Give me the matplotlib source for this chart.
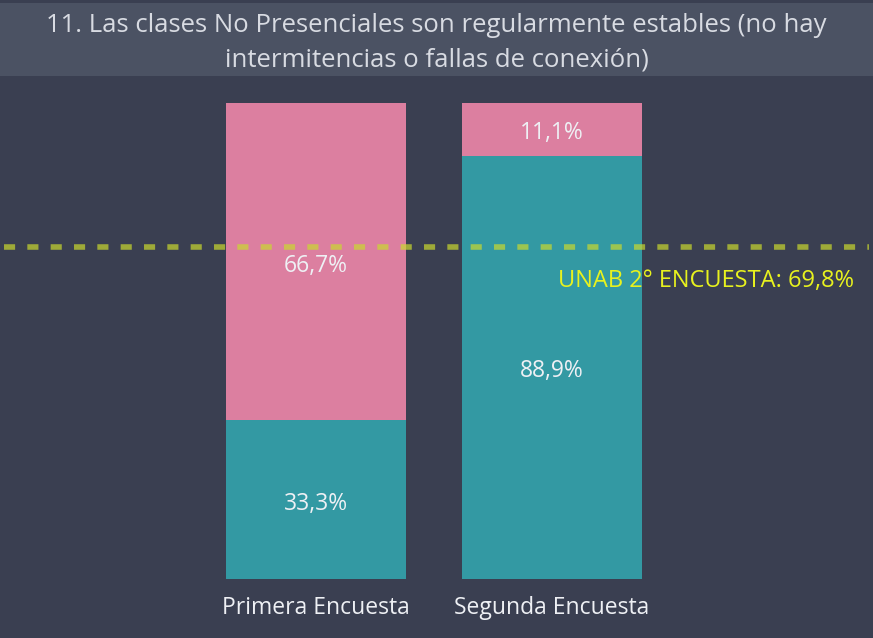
import matplotlib.pyplot as plt
from matplotlib.patches import Rectangle

# ── Data ──────────────────────────────────────────────────────────────────────
categories = ["Primera Encuesta", "Segunda Encuesta"]
si_vals    = [33.3, 88.9]   # teal (bottom)
no_vals    = [66.7, 11.1]   # pink (top)
ref_value  = 69.8
ref_label  = "UNAB 2° ENCUESTA: 69,8%"
title      = "11. Las clases No Presenciales son regularmente estables (no hay\nintermitencias o fallas de conexión)"

BG     = "#3a3f51"
BAND   = "#4b5263"
TEAL   = "#3399a3"
PINK   = "#dc7fa0"
TXT    = "#eef0f4"

plt.rcParams["font.family"] = ["Open Sans", "DejaVu Sans"]

fig = plt.figure(figsize=(8.73, 6.38), dpi=100, facecolor=BG)

# title band
fig.patches.append(Rectangle((0, 1 - 76 / 638), 1, 73 / 638, transform=fig.transFigure,
                             facecolor=BAND, edgecolor="none", zorder=0))
fig.text(0.5, 1 - 43 / 638, title, ha="center", va="center", fontsize=18.5,
         color="#d8dbe2", linespacing=1.5)

ax = fig.add_axes([0, 1 - 579 / 638, 1, 476 / 638])
ax.set_facecolor(BG)
ax.patch.set_alpha(0)
x = [0, 1]
w = 180 / 236
ax.bar(x, [v / 100 for v in si_vals], width=w, color=TEAL, zorder=2)
ax.bar(x, [v / 100 for v in no_vals], bottom=[v / 100 for v in si_vals],
       width=w, color=PINK, zorder=2)

off = 0.008
for xi, s, n in zip(x, si_vals, no_vals):
    ax.text(xi, s / 200 - off, f"{s:.1f}%".replace(".", ","), ha="center", va="center",
            fontsize=16.5, color=TXT, zorder=4)
    ax.text(xi, s / 100 + n / 200 - off, f"{n:.1f}%".replace(".", ","), ha="center",
            va="center", fontsize=16.5, color=TXT, zorder=4)

ax.axhline(ref_value / 100, xmin=0.005, xmax=0.995, color="#c9d92e", alpha=0.7,
           lw=4, ls=(0, (2, 2.2)), zorder=3)
ax.text(0.978, ref_value / 100 - 0.072, ref_label, transform=ax.get_yaxis_transform(),
        ha="right", va="center", fontsize=17, color="#e8f21e", zorder=4)

ax.set_xlim(-316 / 236, (873 - 316) / 236)
ax.set_ylim(0, 1)
ax.set_yticks([])
ax.set_xticks(x)
ax.set_xticklabels(categories, fontsize=16.5, color=TXT)
ax.tick_params(axis="x", length=0, pad=12)
for sp in ax.spines.values():
    sp.set_visible(False)

fig.savefig("out.png", dpi=100, facecolor=BG)
